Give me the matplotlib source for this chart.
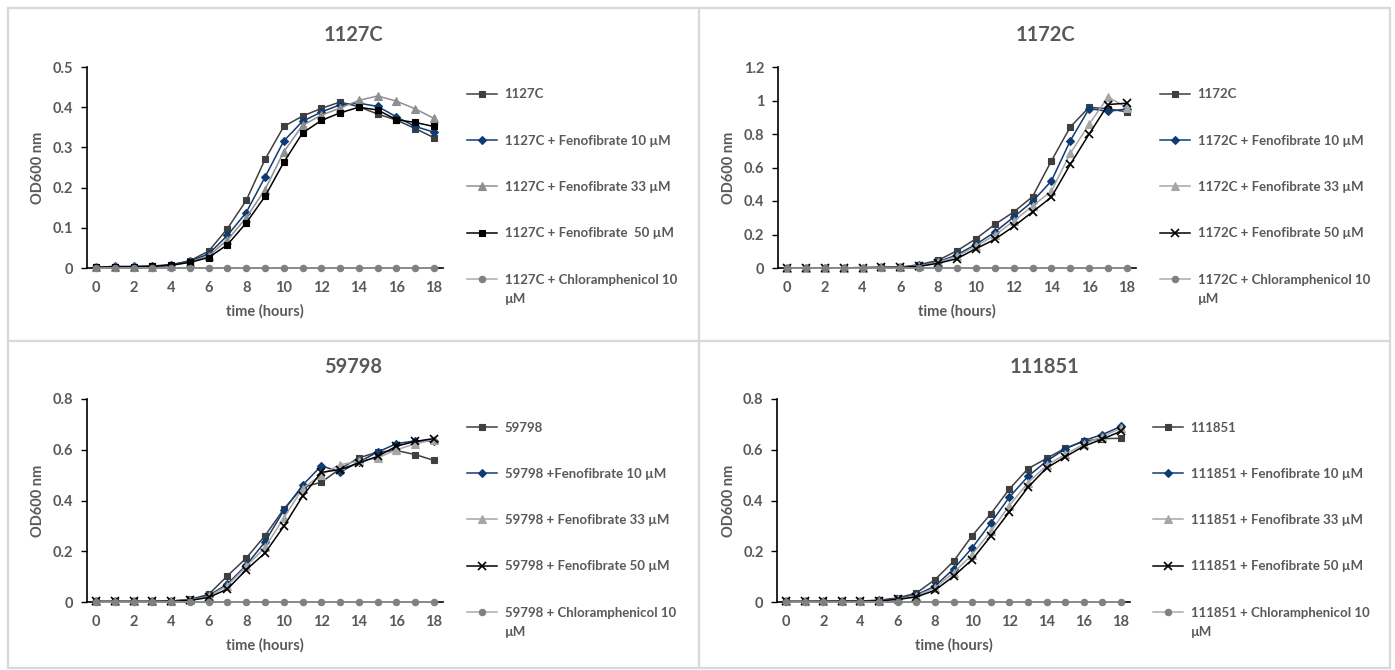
import matplotlib
matplotlib.use("Agg")
import matplotlib.pyplot as plt
from matplotlib.lines import Line2D

# ---------------- data ----------------
hours = [0, 1, 2, 3, 4, 5, 6, 7, 8, 9, 10, 11, 12, 13, 14, 15, 16, 17, 18]
xtick_labels = ["0", "2", "4", "6", "8", "10", "12", "14", "16", "18"]

titles = ["1127C", "1172C", "59798", "111851"]

# 1127C
p1_ctrl = [0.002, 0.003, 0.003, 0.004, 0.008, 0.018, 0.042, 0.098, 0.168, 0.270, 0.352, 0.378, 0.397, 0.413, 0.401, 0.383, 0.368, 0.347, 0.324]
p1_f10 = [0.002, 0.004, 0.004, 0.005, 0.008, 0.017, 0.035, 0.081, 0.138, 0.226, 0.316, 0.365, 0.388, 0.406, 0.410, 0.402, 0.376, 0.352, 0.338]
p1_f33 = [0.002, 0.002, 0.002, 0.003, 0.006, 0.015, 0.030, 0.070, 0.125, 0.195, 0.289, 0.355, 0.380, 0.398, 0.417, 0.428, 0.415, 0.396, 0.372]
p1_f50 = [0.002, 0.003, 0.003, 0.004, 0.007, 0.014, 0.026, 0.058, 0.112, 0.178, 0.263, 0.336, 0.367, 0.386, 0.400, 0.393, 0.369, 0.362, 0.352]
p1_chl = [0, 0, 0, 0, 0, 0, 0, 0, 0, 0, 0, 0, 0, 0, 0, 0, 0, 0, 0]

# 1172C
p2_ctrl = [0.001, 0.001, 0.001, 0.001, 0.002, 0.003, 0.005, 0.020, 0.046, 0.103, 0.174, 0.260, 0.334, 0.426, 0.640, 0.842, 0.960, 0.950, 0.932]
p2_f10 = [0.001, 0.001, 0.001, 0.001, 0.002, 0.003, 0.004, 0.015, 0.036, 0.079, 0.141, 0.214, 0.304, 0.397, 0.520, 0.760, 0.952, 0.935, 0.950]
p2_f33 = [0.001, 0.001, 0.001, 0.001, 0.002, 0.003, 0.004, 0.013, 0.033, 0.070, 0.130, 0.195, 0.280, 0.370, 0.460, 0.684, 0.859, 1.020, 0.958]
p2_f50 = [0.001, 0.001, 0.001, 0.001, 0.002, 0.003, 0.004, 0.010, 0.028, 0.056, 0.115, 0.171, 0.248, 0.335, 0.423, 0.619, 0.800, 0.976, 0.984]
p2_chl = [0, 0, 0, 0, 0, 0, 0, 0, 0, 0, 0, 0, 0, 0, 0, 0, 0, 0, 0]

# 59798
p3_ctrl = [0.002, 0.002, 0.002, 0.002, 0.004, 0.010, 0.030, 0.103, 0.173, 0.261, 0.366, 0.452, 0.472, 0.525, 0.568, 0.591, 0.597, 0.581, 0.558]
p3_f10 = [0.002, 0.002, 0.002, 0.002, 0.004, 0.008, 0.025, 0.071, 0.145, 0.237, 0.361, 0.460, 0.537, 0.512, 0.552, 0.591, 0.624, 0.635, 0.633]
p3_f33 = [0.002, 0.002, 0.002, 0.002, 0.003, 0.007, 0.022, 0.065, 0.140, 0.215, 0.331, 0.447, 0.502, 0.541, 0.555, 0.568, 0.600, 0.623, 0.640]
p3_f50 = [0.002, 0.002, 0.002, 0.002, 0.003, 0.006, 0.018, 0.051, 0.127, 0.193, 0.298, 0.417, 0.511, 0.522, 0.548, 0.574, 0.614, 0.633, 0.644]
p3_chl = [0, 0, 0, 0, 0, 0, 0, 0, 0, 0, 0, 0, 0, 0, 0, 0, 0, 0, 0]

# 111851
p4_ctrl = [0.002, 0.002, 0.003, 0.003, 0.004, 0.007, 0.016, 0.035, 0.088, 0.160, 0.261, 0.347, 0.445, 0.525, 0.566, 0.606, 0.633, 0.644, 0.645]
p4_f10 = [0.002, 0.002, 0.003, 0.003, 0.004, 0.006, 0.013, 0.028, 0.062, 0.130, 0.213, 0.311, 0.413, 0.495, 0.555, 0.603, 0.636, 0.660, 0.692]
p4_f33 = [0.002, 0.002, 0.002, 0.003, 0.003, 0.005, 0.011, 0.025, 0.055, 0.115, 0.187, 0.278, 0.380, 0.470, 0.538, 0.582, 0.622, 0.652, 0.685]
p4_f50 = [0.002, 0.002, 0.002, 0.003, 0.003, 0.005, 0.010, 0.020, 0.046, 0.101, 0.167, 0.259, 0.355, 0.452, 0.528, 0.572, 0.614, 0.642, 0.673]
p4_chl = [0, 0, 0, 0, 0, 0, 0, 0, 0, 0, 0, 0, 0, 0, 0, 0, 0, 0, 0]

p1_labels = ["1127C", "1127C + Fenofibrate 10 µM", "1127C + Fenofibrate 33 µM",
             "1127C + Fenofibrate  50 µM", "1127C + Chloramphenicol 10", "µM"]
p2_labels = ["1172C", "1172C + Fenofibrate 10 µM", "1172C + Fenofibrate 33 µM",
             "1172C + Fenofibrate 50 µM", "1172C + Chloramphenicol 10", "µM"]
p3_labels = ["59798", "59798 +Fenofibrate 10 µM", "59798 + Fenofibrate 33 µM",
             "59798 + Fenofibrate 50 µM", "59798 + Chloramphenicol 10", "µM"]
p4_labels = ["111851", "111851 + Fenofibrate 10 µM", "111851 + Fenofibrate 33 µM",
             "111851 + Fenofibrate 50 µM", "111851 + Chloramphenicol 10", "µM"]

p1_yticks = [0, 0.1, 0.2, 0.3, 0.4, 0.5]
p1_yticklabels = ["0", "0.1", "0.2", "0.3", "0.4", "0.5"]
p2_yticks = [0, 0.2, 0.4, 0.6, 0.8, 1.0, 1.2]
p2_yticklabels = ["0", "0.2", "0.4", "0.6", "0.8", "1", "1.2"]
p34_yticks = [0, 0.2, 0.4, 0.6, 0.8]
p34_yticklabels = ["0", "0.2", "0.4", "0.6", "0.8"]

xlabel = "time (hours)"
ylabel = "OD600 nm"

# ---------------- figure ----------------
W, H = 1395, 670
fig = plt.figure(figsize=(W / 100, H / 100), dpi=100)
plt.rcParams['font.family'] = ['Lato', 'DejaVu Sans']
TXT = '#595959'
BORDER = '#d9d9d9'


def hline(x0, x1, y):
    fig.add_artist(Line2D([x0 / W, x1 / W], [(H - y) / H, (H - y) / H],
                          transform=fig.transFigure, color=BORDER, lw=1.6))


def vline(x, y0, y1):
    fig.add_artist(Line2D([x / W, x / W], [(H - y0) / H, (H - y1) / H],
                          transform=fig.transFigure, color=BORDER, lw=1.6))


hline(8, 1390, 8)
hline(8, 1390, 341)
hline(8, 1390, 668)
vline(8, 8, 668)
vline(699, 8, 668)
vline(1390, 8, 668)

panels = [
    dict(title=titles[0], series=[p1_ctrl, p1_f10, p1_f33, p1_f50, p1_chl], labels=p1_labels,
         yticks=p1_yticks, yticklabels=p1_yticklabels, ymax=0.5,
         box=(86.6, 443.4, 67, 268), center=353, title_y=35, xl_y=312, yl_x=38,
         leg_x=467, leg_y=93, tri='#8f8f8f', m4='s'),
    dict(title=titles[1], series=[p2_ctrl, p2_f10, p2_f33, p2_f50, p2_chl], labels=p2_labels,
         yticks=p2_yticks, yticklabels=p2_yticklabels, ymax=1.2,
         box=(777.6, 1136.4, 67, 268), center=1045, title_y=35, xl_y=312, yl_x=729,
         leg_x=1160, leg_y=93, tri='#a6a6a6', m4='x'),
    dict(title=titles[2], series=[p3_ctrl, p3_f10, p3_f33, p3_f50, p3_chl], labels=p3_labels,
         yticks=p34_yticks, yticklabels=p34_yticklabels, ymax=0.8,
         box=(86.6, 443.4, 399, 602), center=353, title_y=367, xl_y=646, yl_x=38,
         leg_x=467, leg_y=426, tri='#a6a6a6', m4='x'),
    dict(title=titles[3], series=[p4_ctrl, p4_f10, p4_f33, p4_f50, p4_chl], labels=p4_labels,
         yticks=p34_yticks, yticklabels=p34_yticklabels, ymax=0.8,
         box=(776.7, 1130.3, 399, 602), center=1045, title_y=367, xl_y=646, yl_x=729,
         leg_x=1153, leg_y=426, tri='#a6a6a6', m4='x'),
]

legends = []
for p in panels:
    x0, x1, yt, yb = p['box']
    pw = x1 - x0
    ph = yb - yt
    ax = fig.add_axes([x0 / W, (H - yb) / H, pw / W, ph / H])
    styles = [
        dict(color='#3f3f3f', marker='s', ms=4.6, mfc='#3f3f3f', mec='#3f3f3f', mew=0.8),
        dict(color='#0f3b74', marker='D', ms=4.4, mfc='#0f3b74', mec='#0f3b74', mew=0.8),
        dict(color=p['tri'], marker='^', ms=5.8, mfc=p['tri'], mec=p['tri'], mew=0.8),
        (dict(color='#000000', marker='s', ms=4.6, mfc='#000000', mec='#000000', mew=0.8)
         if p['m4'] == 's' else
         dict(color='#000000', marker='x', ms=6.3, mfc='#000000', mec='#000000', mew=1.2)),
        dict(color='#ababab', marker='o', ms=4.6, mfc='#808080', mec='#808080', mew=0.8),
    ]
    handles = []
    for s, st, lab in zip(p['series'], styles, p['labels'][:5]):
        ln, = ax.plot(hours, s, lw=1.1, label=lab, clip_on=False, zorder=3, **st)
        handles.append(ln)

    ax.set_xlim(-0.5, 18.5)
    ax.set_ylim(0, p['ymax'])
    ax.set_xticks(hours[::2], xtick_labels, fontweight='bold')
    ax.set_yticks(p['yticks'], p['yticklabels'], fontweight='bold')
    ax.tick_params(axis='x', length=0, pad=9, labelsize=10.5, labelcolor=TXT)
    ax.tick_params(axis='y', direction='out', length=4.5, width=1.0, color='#000000',
                   pad=5, labelsize=10.5, labelcolor=TXT)
    for side in ('top', 'right'):
        ax.spines[side].set_visible(False)
    for side in ('left', 'bottom'):
        ax.spines[side].set_color('#000000')
        ax.spines[side].set_linewidth(1.2)
    ax.set_facecolor('none')

    ax.set_xlabel(xlabel, fontsize=10.5, fontweight='bold', color=TXT)
    ax.xaxis.set_label_coords(0.5, (yb - (p['xl_y'] - 8)) / ph)
    ax.set_ylabel(ylabel, fontsize=10.5, fontweight='bold', color=TXT)
    ax.yaxis.set_label_coords((p['yl_x'] + 7 - x0) / pw, 0.5)

    fig.text(p['center'] / W, (H - p['title_y']) / H, p['title'], ha='center', va='center',
             fontsize=14.5, fontweight='bold', color=TXT)

    leg = ax.legend(handles=handles, loc='upper left',
                    bbox_to_anchor=(p['leg_x'] / W, (H - p['leg_y'] + 8.5 - 4) / H),
                    bbox_transform=fig.transFigure, frameon=False, numpoints=1,
                    handlelength=2.3, handletextpad=0.55, labelspacing=2.6,
                    borderpad=0, borderaxespad=0, prop=dict(size=9.5, weight='bold'),
                    labelcolor=TXT)
    legends.append((leg, p['labels'][5]))

fig.canvas.draw()
for leg, extra in legends:
    t = leg.get_texts()[-1]
    bb = t.get_window_extent()
    fig.text(bb.x0 / W, (bb.y0 - 19) / H, extra, ha='left', va='bottom',
             fontsize=9.5, fontweight='bold', color=TXT)

fig.savefig("out.png", dpi=100, facecolor='white')
